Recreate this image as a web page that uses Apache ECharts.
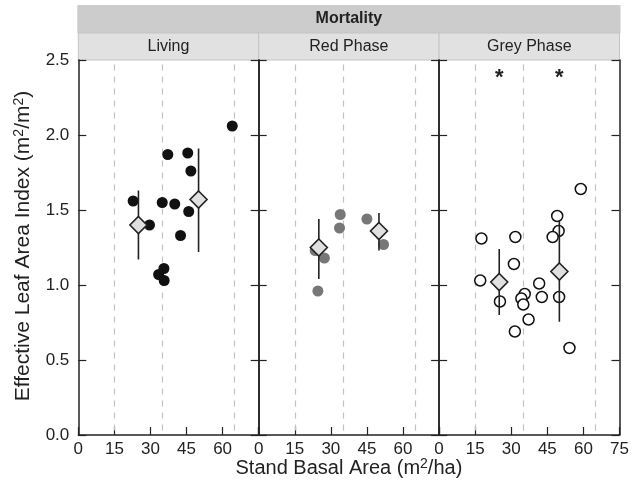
<!DOCTYPE html>
<html>
<head>
<meta charset="utf-8">
<script src="https://cdn.jsdelivr.net/npm/echarts@6/dist/echarts.min.js"></script>
<style>html,body{margin:0;padding:0;background:#fff}#c{width:639px;height:488px}</style>
</head>
<body>
<div id="c"></div>
<script>
// ---- data ----
const panelNames = ['Living', 'Red Phase', 'Grey Phase'];
const stripTitle = 'Mortality';
const xTicks = [0, 15, 30, 45, 60, 75];
const yTicks = [0.0, 0.5, 1.0, 1.5, 2.0, 2.5];
const refLines = [15, 35, 65];

const livingX = [64.0, 37.2, 45.5, 46.8, 22.8, 34.9, 40.1, 45.9, 29.6, 42.5, 35.6, 33.4, 35.7];
const livingY = [2.06, 1.87, 1.88, 1.76, 1.56, 1.55, 1.54, 1.49, 1.40, 1.33, 1.11, 1.07, 1.03];

const redX = [33.9, 33.6, 45.0, 51.9, 23.5, 27.3, 24.6];
const redY = [1.47, 1.38, 1.44, 1.27, 1.23, 1.18, 0.96];

const greyX = [58.9, 49.1, 49.7, 47.2, 17.6, 31.7, 31.1, 17.1, 41.6, 35.6, 34.2, 35.0, 42.7, 49.9, 25.3, 37.2, 31.5, 54.2];
const greyY = [1.64, 1.46, 1.36, 1.32, 1.31, 1.32, 1.14, 1.03, 1.01, 0.94, 0.91, 0.87, 0.92, 0.92, 0.89, 0.77, 0.69, 0.58];

const meanX = [25, 50];
const livingMean = [1.40, 1.57], livingLo = [1.17, 1.22], livingHi = [1.63, 1.91];
const redMean = [1.25, 1.36], redLo = [1.04, 1.23], redHi = [1.44, 1.48];
const greyMean = [1.02, 1.09], greyLo = [0.80, 0.755], greyHi = [1.24, 1.43];

const starX = [25, 50];
const starY = [2.415, 2.415];

// ---- layout ----
const L0 = 78.3, PW = 180.4, TOP = 60, PH = 375;
const FONT = 'Liberation Sans, Arial, Helvetica, sans-serif';
const ink = '#222';

const panels = [
  {x: livingX, y: livingY, mean: livingMean, lo: livingLo, hi: livingHi,
   pt: {color: '#111', borderWidth: 0}},
  {x: redX, y: redY, mean: redMean, lo: redLo, hi: redHi,
   pt: {color: '#777', borderWidth: 0}},
  {x: greyX, y: greyY, mean: greyMean, lo: greyLo, hi: greyHi,
   pt: {color: '#fff', borderColor: '#111', borderWidth: 1.5}}
];

const grid = [], xAxis = [], yAxis = [], series = [], graphic = [];

graphic.push({type: 'rect', shape: {x: L0 - 1, y: 5, width: PW * 3 + 2, height: 28},
  style: {fill: '#cccccc'}, silent: true});
graphic.push({type: 'text', x: L0 + PW * 1.5, y: 19,
  style: {text: stripTitle, font: 'bold 16px ' + FONT, fill: ink, align: 'center', verticalAlign: 'middle'}});

panels.forEach((p, i) => {
  const left = L0 + i * PW;
  grid.push({left: left, top: TOP, width: PW, height: PH});
  graphic.push({type: 'rect', shape: {x: left, y: 33, width: PW, height: 27},
    style: {fill: '#e1e1e1', stroke: '#c4c4c4', lineWidth: 1}, silent: true});
  graphic.push({type: 'text', x: left + PW / 2, y: 46.5,
    style: {text: panelNames[i], font: '16px ' + FONT, fill: ink, align: 'center', verticalAlign: 'middle'}});

  xAxis.push({
    type: 'value', gridIndex: i, min: xTicks[0], max: xTicks[xTicks.length - 1], interval: 15,
    axisLine: {show: true, onZero: false, lineStyle: {color: ink, width: 1.5}},
    axisTick: {show: true, inside: true, length: 8, lineStyle: {color: ink, width: 1.2}},
    axisLabel: {show: true, color: ink, fontSize: 17, fontFamily: FONT, margin: 6,
      showMaxLabel: true, showMinLabel: true,
      formatter: v => (i < 2 && v === 75) ? '' : String(v)},
    splitLine: {show: false}
  });
  yAxis.push({
    type: 'value', gridIndex: i, min: yTicks[0], max: yTicks[yTicks.length - 1], interval: 0.5,
    position: 'left',
    axisLine: {show: true, onZero: false, lineStyle: {color: ink, width: 1.5}},
    axisTick: {show: true, inside: true, length: 8, lineStyle: {color: ink, width: 1.2}},
    axisLabel: {show: i === 0, color: ink, fontSize: 17, fontFamily: FONT, margin: 9,
      formatter: v => v.toFixed(1)},
    splitLine: {show: false}
  });
  yAxis.push({
    type: 'value', gridIndex: i, min: yTicks[0], max: yTicks[yTicks.length - 1], interval: 0.5,
    position: 'right',
    axisLine: {show: true, onZero: false, lineStyle: {color: ink, width: 1.5}},
    axisTick: {show: true, inside: true, length: 8, lineStyle: {color: ink, width: 1.2}},
    axisLabel: {show: false},
    splitLine: {show: false}
  });

  const yi = i * 2;
  // points + reference lines
  series.push({
    type: 'scatter', xAxisIndex: i, yAxisIndex: yi, z: 3,
    symbol: 'circle', symbolSize: 11,
    itemStyle: Object.assign({opacity: 1}, p.pt),
    data: p.x.map((x, k) => [x, p.y[k]]),
    markLine: {
      silent: true, symbol: 'none', z: 1,
      label: {show: false},
      lineStyle: {color: '#c2c2c2', type: [6, 6], width: 1.2},
      data: refLines.map(v => [{coord: [v, 2.47]}, {coord: [v, 0]}])
    }
  });
  // error bars
  series.push({
    type: 'custom', xAxisIndex: i, yAxisIndex: yi, z: 4,
    data: meanX.map((x, k) => [x, p.lo[k], p.hi[k]]),
    renderItem: (params, api) => {
      const a = api.coord([api.value(0), api.value(1)]);
      const b = api.coord([api.value(0), api.value(2)]);
      return {type: 'line', shape: {x1: a[0], y1: a[1], x2: b[0], y2: b[1]},
        style: {stroke: ink, lineWidth: 1.6}};
    }
  });
  // means
  series.push({
    type: 'scatter', xAxisIndex: i, yAxisIndex: yi, z: 5,
    symbol: 'diamond', symbolSize: [17, 17],
    itemStyle: {color: '#e0e0e0', borderColor: ink, borderWidth: 1.6, opacity: 1},
    data: meanX.map((x, k) => [x, p.mean[k]])
  });
});

// significance stars
series.push({
  type: 'custom', xAxisIndex: 2, yAxisIndex: 4, z: 6,
  data: starX.map((x, k) => [x, starY[k]]),
  renderItem: (params, api) => {
    const c = api.coord([api.value(0), api.value(1)]);
    return {type: 'text', x: c[0], y: c[1] + 5,
      style: {text: '*', font: 'bold 22px ' + FONT, fill: ink, align: 'center', verticalAlign: 'middle'}};
  }
});

// axis titles
graphic.push({type: 'text', x: L0 + PW * 1.5, y: 468,
  style: {text: 'Stand Basal Area (m{sup|2}/ha)', font: '20px ' + FONT, fill: ink,
    align: 'center', verticalAlign: 'middle',
    rich: {sup: {fontSize: 14, fontFamily: FONT, verticalAlign: 'top', fill: ink, padding: [0, 0, 8, 0]}}}});
graphic.push({type: 'text', x: 23, y: 246, rotation: Math.PI / 2,
  style: {text: 'Effective Leaf Area Index (m{sup|2}/m{sup|2})', font: '21px ' + FONT, fill: ink,
    align: 'center', verticalAlign: 'middle',
    rich: {sup: {fontSize: 14, fontFamily: FONT, verticalAlign: 'top', fill: ink, padding: [0, 0, 8, 0]}}}});

const chart = echarts.init(document.getElementById('c'), null, {renderer: 'canvas'});
chart.setOption({
  animation: false,
  backgroundColor: '#fff',
  grid, xAxis, yAxis, series, graphic
});
</script>
</body>
</html>
